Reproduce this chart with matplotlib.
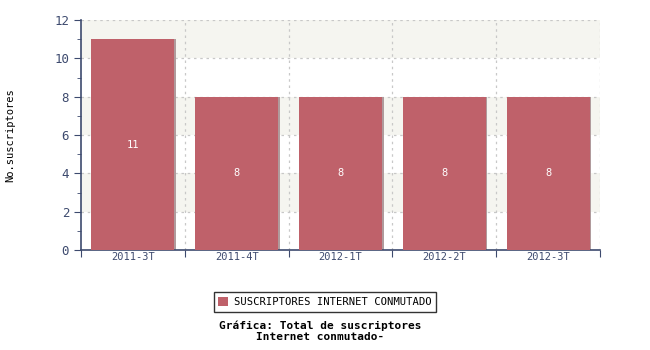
import matplotlib
matplotlib.use("Agg")
import matplotlib.pyplot as plt

categories = ["2011-3T", "2011-4T", "2012-1T", "2012-2T", "2012-3T"]
values = [11, 8, 8, 8, 8]
series_name = "SUSCRIPTORES INTERNET CONMUTADO"
ylabel = "No.suscriptores"
title = "Gráfica: Total de suscriptores\nInternet conmutado-"

bar_color = "#bf616a"
axis_color = "#3d4a6e"
mono = "DejaVu Sans Mono"

fig = plt.figure(figsize=(6.5, 3.5), dpi=100)
ax = fig.add_axes([81/650, 100/350, 519/650, 230/350])

n = len(categories)
ax.set_xlim(0, n)
ax.set_ylim(0, 12)

# alternating bands
for y0 in range(0, 12, 2):
    if (y0 // 2) % 2 == 1:
        ax.axhspan(y0, y0 + 2, color="#f5f5f0", zorder=0, lw=0)

# grid
for y in range(2, 13, 2):
    ax.axhline(y, color="#c8c8c8", lw=0.9, ls=(0, (2, 3)), zorder=1)
for x in range(1, n + 1):
    ax.axvline(x, color="#c8c8c8", lw=0.9, ls=(0, (2, 3)), zorder=1)

xs = [i + 0.5 for i in range(n)]
# shadow
ax.bar([x + 0.015 for x in xs], values, width=0.8, color="#b09a9c", zorder=2, lw=0)
bars = ax.bar(xs, values, width=0.8, color=bar_color, zorder=3, lw=0, label=series_name)
for x, v in zip(xs, values):
    ax.text(x, v / 2, str(v), color="white", ha="center", va="center",
            fontsize=7.5, family=mono, zorder=4)

for s in ["top", "right"]:
    ax.spines[s].set_visible(False)
for s in ["left", "bottom"]:
    ax.spines[s].set_color(axis_color)
    ax.spines[s].set_linewidth(1.2)

ax.set_yticks(range(0, 13, 2))
ax.set_yticks(range(1, 12, 2), minor=True)
ax.tick_params(axis="y", which="major", length=5, color=axis_color, labelcolor=axis_color,
               labelsize=9)
ax.tick_params(axis="y", which="minor", length=3, color=axis_color)
for lab in ax.get_yticklabels():
    lab.set_family(mono)

ax.set_xticks(range(0, n + 1))
ax.set_xticklabels([])
ax.tick_params(axis="x", which="major", length=5, color=axis_color, direction="out")
for x, c in zip(xs, categories):
    ax.text(x, -0.12, c, ha="center", va="top", fontsize=7.5, family=mono,
            color=axis_color, transform=ax.transData)

fig.text(10/650, 1 - 135/350, ylabel, rotation=90, ha="center", va="center",
         fontsize=7.5, family=mono)

leg = fig.legend(handles=[bars], labels=[series_name], loc="center",
                 bbox_to_anchor=(325/650, 1 - 302/350), frameon=True, fancybox=False,
                 prop={"family": mono, "size": 7.6}, handlelength=0.9, handleheight=0.9,
                 borderpad=0.45, handletextpad=0.6)
leg.get_frame().set_edgecolor("black")
leg.get_frame().set_linewidth(1.0)
fig.text(320/650, 1 - 331.5/350, title, ha="center", va="center", fontsize=8,
         family=mono, fontweight="bold", linespacing=1.15)

fig.savefig("out.png", dpi=100)
